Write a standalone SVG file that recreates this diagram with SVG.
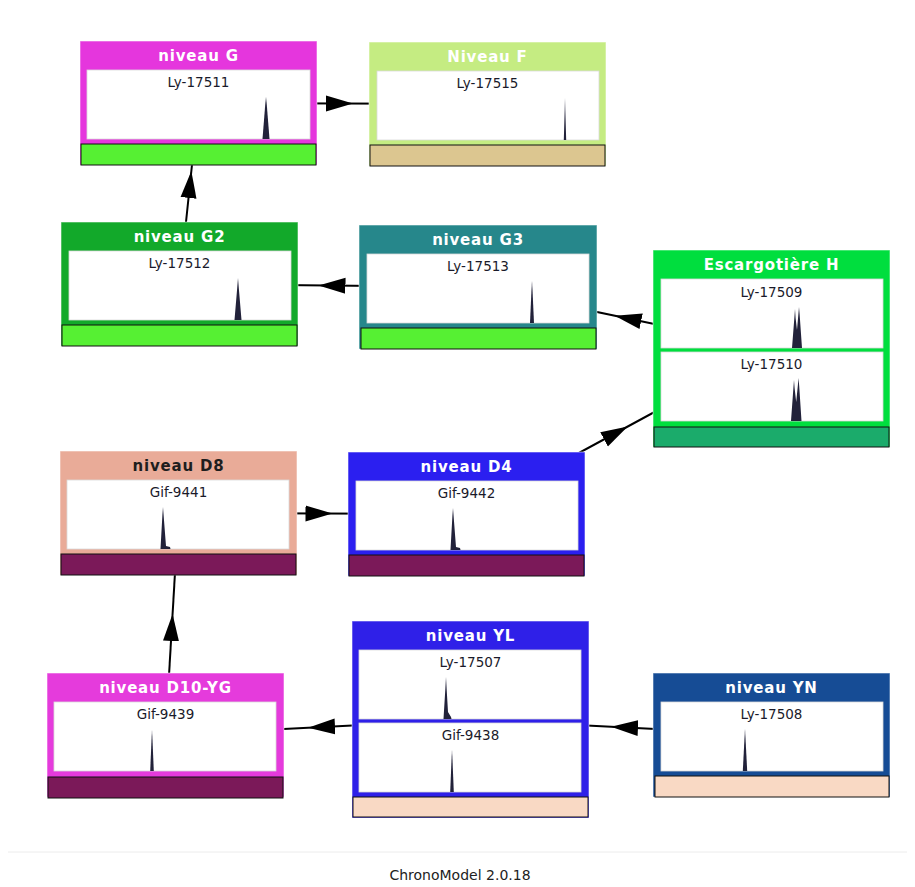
<svg xmlns="http://www.w3.org/2000/svg" width="915" height="887" viewBox="0 0 915 887">
<style>
.box{stroke:rgba(255,255,255,0.55);stroke-width:1}
.title{font-family:"DejaVu Sans",sans-serif;font-weight:bold;font-size:15px;letter-spacing:0.8px;fill:#fff;text-anchor:middle}
.dark{fill:#1e1e1e}
.inner{fill:#fff;stroke:#d9d9d9;stroke-width:0.8}
.label{font-family:"DejaVu Sans",sans-serif;font-size:13.5px;fill:#1a1a2a;text-anchor:middle}
.bar{stroke:#111;stroke-width:1}
.peak{fill:#22223a}
.conn{fill:none;stroke:#000;stroke-width:2;marker-mid:url(#arr)}
.footer{font-family:"DejaVu Sans",sans-serif;font-size:14px;fill:#222;text-anchor:middle}
</style>
<defs>
<marker id="arr" markerUnits="userSpaceOnUse" markerWidth="28" markerHeight="18" viewBox="0 0 28 18" refX="17" refY="9" orient="auto">
<path d="M0,1 L27,9 L0,17 Z" fill="#000"/>
</marker>
</defs>
<rect width="915" height="887" fill="#fff"/>
<g id="connectors">
<path class="conn" d="M198.5,103 L343,103.5 L487.5,104"/>
<path class="conn" d="M179.5,284 L190.3,181 L198.5,103"/>
<path class="conn" d="M477.5,287 L328.5,285.5 L179.5,284"/>
<path class="conn" d="M771.5,348.5 L624.5,317.75 L477.5,287"/>
<path class="conn" d="M466.5,514 L619,431.25 L771.5,348.5"/>
<path class="conn" d="M178.5,513 L322.5,513.5 L466.5,514"/>
<path class="conn" d="M165.5,735 L172,624 L178.5,513"/>
<path class="conn" d="M470.5,719.5 L318,727.25 L165.5,735"/>
<path class="conn" d="M771.5,735 L621,727.25 L470.5,719.5"/>
</g>
<g id="node-niveau-G">
<rect class="box" x="80" y="41" width="237" height="124" fill="#e536dd"/>
<text class="title" x="198.5" y="61">niveau G</text>
<rect class="inner" x="87" y="70" width="223" height="69"/>
<text class="label" x="198.5" y="87">Ly-17511</text>
<path class="peak" d="M262.5,139 L265.2,105 L266,97 L266.8,105 L269.5,139 Z"/>
<rect class="bar" x="81" y="144" width="235" height="21" fill="#56f033"/>
</g>
<g id="node-niveau-F">
<rect class="box" x="369" y="42" width="237" height="124" fill="#c5ec82"/>
<text class="title" x="487.5" y="62">Niveau F</text>
<rect class="inner" x="377" y="71" width="222" height="69"/>
<text class="label" x="487.5" y="88">Ly-17515</text>
<path class="peak" d="M563.8,140 L564.7,110 L565,98 L565.3,110 L566.2,140 Z"/>
<rect class="bar" x="370" y="145" width="235" height="21" fill="#dcc690"/>
</g>
<g id="node-niveau-G2">
<rect class="box" x="61" y="222" width="237" height="124" fill="#12a92a"/>
<text class="title" x="179.5" y="242">niveau G2</text>
<rect class="inner" x="69" y="251" width="222" height="69"/>
<text class="label" x="179.5" y="268">Ly-17512</text>
<path class="peak" d="M234.5,320 L237.2,288 L238,278 L238.8,288 L241.5,320 Z"/>
<rect class="bar" x="62" y="325" width="235" height="21" fill="#56f033"/>
</g>
<g id="node-niveau-G3">
<rect class="box" x="359" y="225" width="238" height="124" fill="#26878b"/>
<text class="title" x="478" y="245">niveau G3</text>
<rect class="inner" x="367" y="254" width="222" height="69"/>
<text class="label" x="478" y="271">Ly-17513</text>
<path class="peak" d="M530,323 L531.4,292 L532,281 L532.6,292 L534,323 Z"/>
<rect class="bar" x="361" y="328" width="235" height="21" fill="#56f033"/>
</g>
<g id="node-escargotiere-H">
<rect class="box" x="653" y="250" width="237" height="197" fill="#00de3e"/>
<text class="title" x="771.5" y="270">Escargotière H</text>
<rect class="inner" x="661" y="279" width="222" height="69"/>
<text class="label" x="771.5" y="297">Ly-17509</text>
<path class="peak" d="M792,348 L794.5,316 L795,309 L795.6,318 L797,330 L798.4,314 L799,307 L799.6,314 L802,348 Z"/>
<rect class="inner" x="661" y="352" width="222" height="69"/>
<text class="label" x="771.5" y="369">Ly-17510</text>
<path class="peak" d="M791,421 L793.4,388 L794,380 L794.6,388 L796.2,402 L797.8,386 L798.5,378 L799.2,386 L801.5,421 Z"/>
<rect class="bar" x="654" y="427" width="235" height="20" fill="#1bab6b"/>
</g>
<g id="node-niveau-D8">
<rect class="box" x="60" y="451" width="237" height="124" fill="#e9ab98"/>
<text class="title dark" x="178.5" y="471">niveau D8</text>
<rect class="inner" x="67" y="480" width="222" height="69"/>
<text class="label" x="178.5" y="497">Gif-9441</text>
<path class="peak" d="M160.5,549 L162.4,515 L163,507 L163.6,515 L166,546 L170,547 L170.5,549 Z"/>
<rect class="bar" x="61" y="554" width="235" height="21" fill="#7b1959"/>
</g>
<g id="node-niveau-D4">
<rect class="box" x="348" y="452" width="237" height="124" fill="#2b1ff0"/>
<text class="title" x="466.5" y="472">niveau D4</text>
<rect class="inner" x="356" y="481" width="222" height="69"/>
<text class="label" x="466.5" y="498">Gif-9442</text>
<path class="peak" d="M450.5,550 L452.4,516 L453,508 L453.6,516 L456,547 L460,548 L460.5,550 Z"/>
<rect class="bar" x="349" y="555" width="235" height="21" fill="#7b1959"/>
</g>
<g id="node-niveau-D10-YG">
<rect class="box" x="47" y="673" width="237" height="124" fill="#e53bdc"/>
<text class="title" x="165.5" y="693">niveau D10-YG</text>
<rect class="inner" x="54" y="702" width="222" height="69"/>
<text class="label" x="165.5" y="719">Gif-9439</text>
<path class="peak" d="M150.2,771 L151.5,740 L152,730 L152.5,740 L153.8,771 Z"/>
<rect class="bar" x="48" y="777" width="235" height="21" fill="#7b1959"/>
</g>
<g id="node-niveau-YL">
<rect class="box" x="352" y="621" width="237" height="197" fill="#2f20e8"/>
<text class="title" x="470.5" y="641">niveau YL</text>
<rect class="inner" x="359" y="650" width="222" height="69"/>
<text class="label" x="470.5" y="667">Ly-17507</text>
<path class="peak" d="M443.5,719 L445.4,688 L446,677 L446.7,690 L448,712 L451,717 L451.5,719 Z"/>
<rect class="inner" x="359" y="723" width="222" height="69"/>
<text class="label" x="470.5" y="740">Gif-9438</text>
<path class="peak" d="M450.2,792 L451.5,760 L452,750 L452.5,760 L453.8,792 Z"/>
<rect class="bar" x="353" y="797" width="235" height="20" fill="#f9d9c4"/>
</g>
<g id="node-niveau-YN">
<rect class="box" x="653" y="673" width="237" height="124" fill="#164c95"/>
<text class="title" x="771.5" y="693">niveau YN</text>
<rect class="inner" x="661" y="702" width="222" height="69"/>
<text class="label" x="771.5" y="719">Ly-17508</text>
<path class="peak" d="M742.8,771 L744.4,740 L745,729 L745.6,740 L747.2,771 Z"/>
<rect class="bar" x="655" y="776" width="234" height="21" fill="#f9d9c4"/>
</g>
<g id="footer">
<line x1="8" y1="852" x2="907" y2="852" stroke="#ececec" stroke-width="1"/>
<text class="footer" x="460" y="880">ChronoModel 2.0.18</text>
</g>
</svg>
